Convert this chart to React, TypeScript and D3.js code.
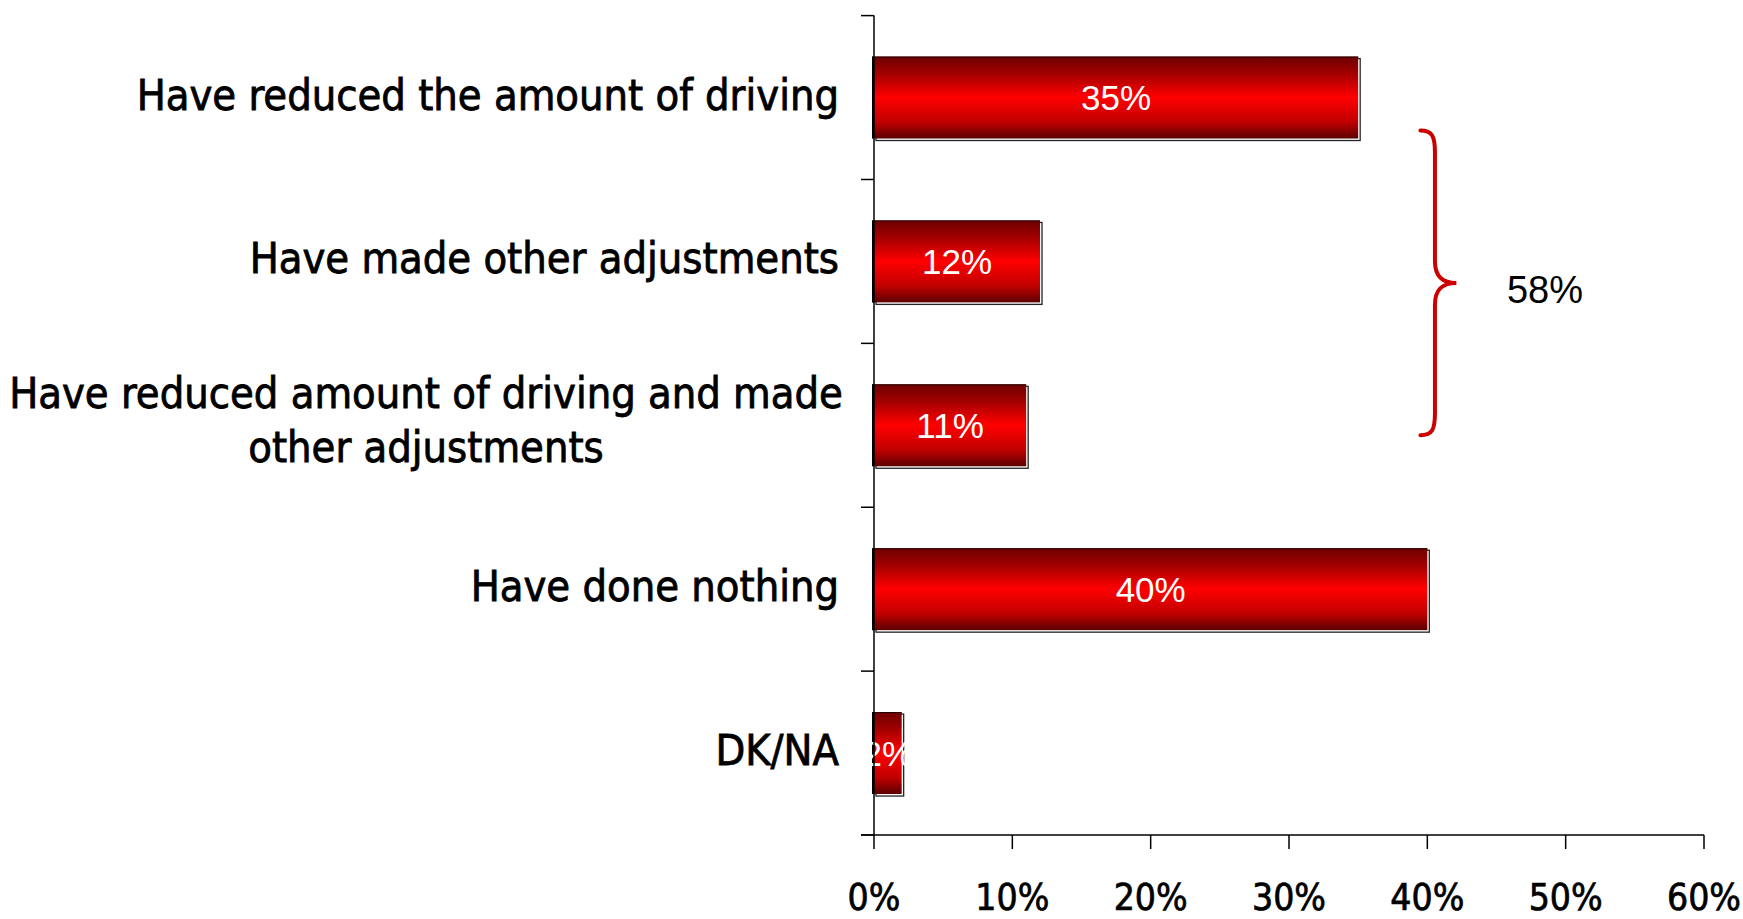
import React from "react";
import * as d3 from "d3";

const categories: string[][] = [
  ["Have reduced the amount of driving"],
  ["Have made other adjustments"],
  ["Have reduced amount of driving and made", "other adjustments"],
  ["Have done nothing"],
  ["DK/NA"],
];
const values: number[] = [0.35, 0.12, 0.11, 0.4, 0.02];
const xTicks: number[] = [0, 0.1, 0.2, 0.3, 0.4, 0.5, 0.6];
const bracketGroup: number[] = [0, 1, 2];

const W = 1743;
const H = 919;
const LABEL_FONT = "'DejaVu Sans Condensed', 'DejaVu Sans', sans-serif";
const VALUE_FONT = "'Liberation Sans', Arial, sans-serif";

export default function App() {
  const x = d3.scaleLinear().domain([0, 0.6]).range([874, 1704]);
  const keys = categories.map((_, i) => String(i));
  const y = d3
    .scaleBand<string>()
    .domain(keys)
    .range([15.6, 835])
    .paddingInner(0.5)
    .paddingOuter(0.25);
  const step = y.step();
  const top = y.range()[0];
  const bottom = y.range()[1];
  const boundaries = d3.range(categories.length + 1).map((i) => top + i * step);
  const pct = d3.format(".0%");

  const yc = (i: number) => (y(String(i)) as number) + y.bandwidth() / 2;
  const bTop = yc(bracketGroup[0]) + 33;
  const bBot = yc(bracketGroup[bracketGroup.length - 1]) + 10;
  const bMid = (bTop + bBot) / 2;
  const bxL = x(0.395);
  const bxV = x(0.4055);
  const bxT = x(0.421);
  const bracePath = [
    `M${bxL},${bTop}`,
    `C${bxL + 12},${bTop} ${bxV},${bTop + 6} ${bxV},${bTop + 22}`,
    `L${bxV},${bMid - 22}`,
    `C${bxV},${bMid - 6} ${bxV + 8},${bMid} ${bxT},${bMid}`,
    `C${bxV + 8},${bMid} ${bxV},${bMid + 6} ${bxV},${bMid + 22}`,
    `L${bxV},${bBot - 22}`,
    `C${bxV},${bBot - 6} ${bxL + 12},${bBot} ${bxL},${bBot}`,
  ].join(" ");
  const groupSum = d3.sum(bracketGroup.map((i) => values[i]));

  return (
    <svg
      width={W}
      height={H}
      style={{ position: "absolute", left: 0, top: 0, display: "block", background: "#fff" }}
    >
      <defs>
        <linearGradient id="barGrad" x1="0" y1="0" x2="0" y2="1">
          <stop offset="0" stopColor="#6e0000" />
          <stop offset="0.2" stopColor="#a00000" />
          <stop offset="0.45" stopColor="#f00000" />
          <stop offset="0.5" stopColor="#ff0000" />
          <stop offset="0.8" stopColor="#c00000" />
          <stop offset="1" stopColor="#5c0000" />
        </linearGradient>
      </defs>

      {/* bars */}
      {values.map((v, i) => {
        const by = y(String(i)) as number;
        const bh = y.bandwidth();
        const bw = x(v) - x(0);
        return (
          <g key={"bar" + i}>
            <rect
              x={x(0) + 2}
              y={by + 2}
              width={bw}
              height={bh}
              fill="#fff"
              stroke="#222"
              strokeWidth={1.3}
            />
            <rect x={x(0) - 1.5} y={by} width={bw + 1.5} height={bh} fill="url(#barGrad)" />
            <line x1={x(0) - 1} x2={x(0) - 1} y1={by} y2={by + bh} stroke="#000" strokeWidth={2} />
            <line x1={x(0) - 1.5} x2={x(v)} y1={by + 0.5} y2={by + 0.5} stroke="#200" strokeWidth={1} />
            <text
              x={(x(0) + x(v)) / 2}
              y={yc(i) + 12.5}
              textAnchor="middle"
              fill="#fff"
              fontFamily={VALUE_FONT}
              fontSize={35}
            >
              {pct(v)}
            </text>
          </g>
        );
      })}

      {/* y axis */}
      <line x1={x(0)} x2={x(0)} y1={top} y2={bottom} stroke="#000" strokeWidth={1.5} />
      {boundaries.map((b, i) => (
        <line key={"yt" + i} x1={x(0) - 13} x2={x(0)} y1={b} y2={b} stroke="#000" strokeWidth={1.5} />
      ))}

      {/* x axis */}
      <line x1={x(0) - 13} x2={x(0.6)} y1={bottom} y2={bottom} stroke="#000" strokeWidth={1.5} />
      {xTicks.map((t) => (
        <g key={"xt" + t}>
          <line x1={x(t)} x2={x(t)} y1={bottom} y2={bottom + 14} stroke="#000" strokeWidth={1.5} />
          <text
            x={x(t)}
            y={910}
            textAnchor="middle"
            fill="#000"
            stroke="#000"
            strokeWidth={0.7}
            fontFamily={LABEL_FONT}
            fontSize={37}
          >
            {pct(t)}
          </text>
        </g>
      ))}

      {/* category labels */}
      {categories.map((lines, i) => {
        const n = lines.length;
        return (
          <text
            key={"cat" + i}
            fill="#000"
            stroke="#000"
            strokeWidth={0.8}
            fontFamily={LABEL_FONT}
            fontSize={43}
            textAnchor={n > 1 ? "middle" : "end"}
          >
            {lines.map((ln, j) => (
              <tspan
                key={j}
                x={n > 1 ? 426 : 839}
                y={yc(i) + 12 + (j - (n - 1) / 2) * 54 - (n > 1 ? 2 : 0)}
              >
                {ln}
              </tspan>
            ))}
          </text>
        );
      })}

      {/* bracket annotation */}
      <path d={bracePath} fill="none" stroke="#cc0000" strokeWidth={4} strokeLinecap="round" />
      <text
        x={1545}
        y={bMid + 20}
        textAnchor="middle"
        fill="#000"
        fontFamily={VALUE_FONT}
        fontSize={38}
      >
        {pct(groupSum)}
      </text>
    </svg>
  );
}
